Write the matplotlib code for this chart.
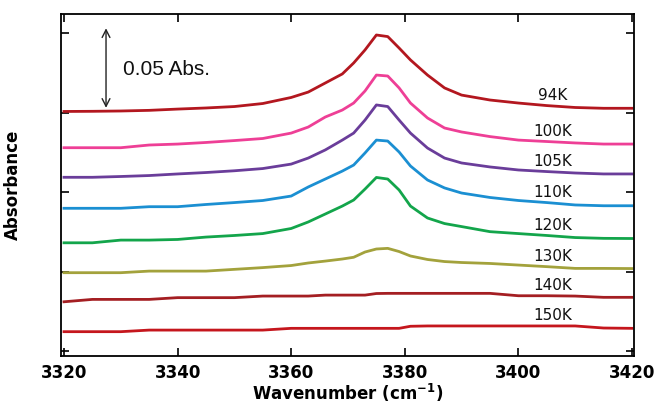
import numpy as np
import matplotlib
matplotlib.use('Agg')
import matplotlib.pyplot as plt

# wavenumber grid (cm-1) the spectra were read at
wavenumber = [3320, 3325, 3330, 3335, 3340, 3345, 3350, 3355, 3360, 3363, 3366,
              3369, 3371, 3373, 3375, 3377, 3379, 3381, 3384, 3387, 3390, 3395,
              3400, 3405, 3410, 3415, 3420]

# absorbance, already stacked with offsets as in the figure
abs_94K = [0.1508, 0.1509, 0.1511, 0.1515, 0.1523, 0.1530, 0.1539, 0.1558, 0.1596,
           0.1630, 0.1687, 0.1744, 0.1813, 0.1895, 0.1989, 0.1979, 0.1907, 0.1832,
           0.1737, 0.1656, 0.1611, 0.1580, 0.1561, 0.1545, 0.1533, 0.1528, 0.1528]
abs_100K = [0.1280, 0.1280, 0.1280, 0.1297, 0.1303, 0.1313, 0.1325, 0.1338, 0.1372,
            0.1410, 0.1473, 0.1517, 0.1561, 0.1637, 0.1737, 0.1731, 0.1656, 0.1561,
            0.1467, 0.1404, 0.1379, 0.1350, 0.1328, 0.1319, 0.1310, 0.1303, 0.1303]
abs_105K = [0.1094, 0.1094, 0.1099, 0.1105, 0.1115, 0.1124, 0.1135, 0.1149, 0.1177,
            0.1215, 0.1266, 0.1328, 0.1372, 0.1454, 0.1549, 0.1539, 0.1454, 0.1372,
            0.1278, 0.1215, 0.1184, 0.1159, 0.1140, 0.1130, 0.1121, 0.1115, 0.1115]
abs_110K = [0.0899, 0.0899, 0.0899, 0.0909, 0.0909, 0.0923, 0.0935, 0.0948, 0.0976,
            0.1033, 0.1083, 0.1133, 0.1171, 0.1247, 0.1328, 0.1322, 0.1253, 0.1165,
            0.1077, 0.1027, 0.0995, 0.0967, 0.0948, 0.0935, 0.0920, 0.0915, 0.0915]
abs_120K = [0.0682, 0.0682, 0.0699, 0.0699, 0.0703, 0.0718, 0.0728, 0.0740, 0.0772,
            0.0813, 0.0863, 0.0913, 0.0951, 0.1020, 0.1093, 0.1083, 0.1014, 0.0913,
            0.0838, 0.0803, 0.0784, 0.0752, 0.0740, 0.0728, 0.0715, 0.0710, 0.0709]
abs_130K = [0.0494, 0.0494, 0.0494, 0.0504, 0.0504, 0.0504, 0.0515, 0.0526, 0.0539,
            0.0555, 0.0567, 0.0580, 0.0591, 0.0624, 0.0643, 0.0647, 0.0627, 0.0599,
            0.0577, 0.0564, 0.0558, 0.0552, 0.0542, 0.0532, 0.0521, 0.0521, 0.0520]
abs_140K = [0.0311, 0.0326, 0.0326, 0.0326, 0.0337, 0.0337, 0.0337, 0.0347, 0.0347,
            0.0347, 0.0353, 0.0353, 0.0353, 0.0353, 0.0363, 0.0364, 0.0364, 0.0364,
            0.0364, 0.0364, 0.0364, 0.0364, 0.0349, 0.0349, 0.0347, 0.0339, 0.0339]
abs_150K = [0.0123, 0.0123, 0.0123, 0.0133, 0.0133, 0.0133, 0.0133, 0.0133, 0.0144,
            0.0144, 0.0144, 0.0144, 0.0144, 0.0144, 0.0144, 0.0144, 0.0144, 0.0157,
            0.0159, 0.0159, 0.0159, 0.0159, 0.0159, 0.0159, 0.0159, 0.0146, 0.0144]

spectra = [abs_94K, abs_100K, abs_105K, abs_110K, abs_120K, abs_130K, abs_140K, abs_150K]
temps = ['94K', '100K', '105K', '110K', '120K', '130K', '140K', '150K']
colors = ['#b3171f', '#ee3f96', '#6a3d9a', '#1b8fd2', '#13a54b', '#a3a23c',
          '#a41e22', '#c5161d']

xticks = [3320, 3340, 3360, 3380, 3400, 3420]
scale_bar = 0.05  # Abs.

fig = plt.figure(figsize=(6.55, 4.07), dpi=100)
ax = fig.add_axes([0.0931, 0.1253, 0.8748, 0.8403])

for vals, t, c in zip(spectra, temps, colors):
    ax.plot(wavenumber, vals, color=c, lw=2.0, solid_joinstyle='round')
    # temperature label sits just above the curve near the right edge
    ax.annotate(t, xy=(3406, np.interp(3406, wavenumber, vals)), xytext=(0, 7.5),
                textcoords='offset points', ha='center', va='center',
                fontsize=11, family='DejaVu Sans', color='#111111')

# 0.05 Abs. scale arrow starting from the 94K baseline
base = abs_94K[1] + 0.0022
ax.annotate('', xy=(3327.4, base + scale_bar), xytext=(3327.4, base),
            arrowprops=dict(arrowstyle='<->,head_length=0.55,head_width=0.28',
                            lw=1.0, color='#222222', shrinkA=0, shrinkB=0))
ax.text(3330.4, base + 0.024, '0.05 Abs.', fontsize=15, family='Liberation Sans',
        va='center', ha='left', color='#111111')

ax.set_xlim(3319.47, 3420.35)
ax.set_ylim(-0.003, 0.2121)
ax.set_xticks(xticks)
ax.set_yticks([0, 0.05, 0.10, 0.15, 0.20])
ax.set_yticklabels([])
ax.tick_params(direction='in', length=6, width=1.2, top=True, right=True, pad=6)
for lab in ax.get_xticklabels():
    lab.set_fontsize(12)
    lab.set_fontweight('bold')
    lab.set_family('DejaVu Sans')
for s in ax.spines.values():
    s.set_linewidth(1.3)

ax.set_xlabel('Wavenumber (cm$^{\\mathbf{-1}}$)', fontsize=12, fontweight='bold',
              family='DejaVu Sans', labelpad=0)
ax.set_ylabel('Absorbance', fontsize=12, fontweight='bold', family='DejaVu Sans')
ax.yaxis.set_label_coords(-0.068, 0.5)

fig.savefig('out.png', dpi=100)
